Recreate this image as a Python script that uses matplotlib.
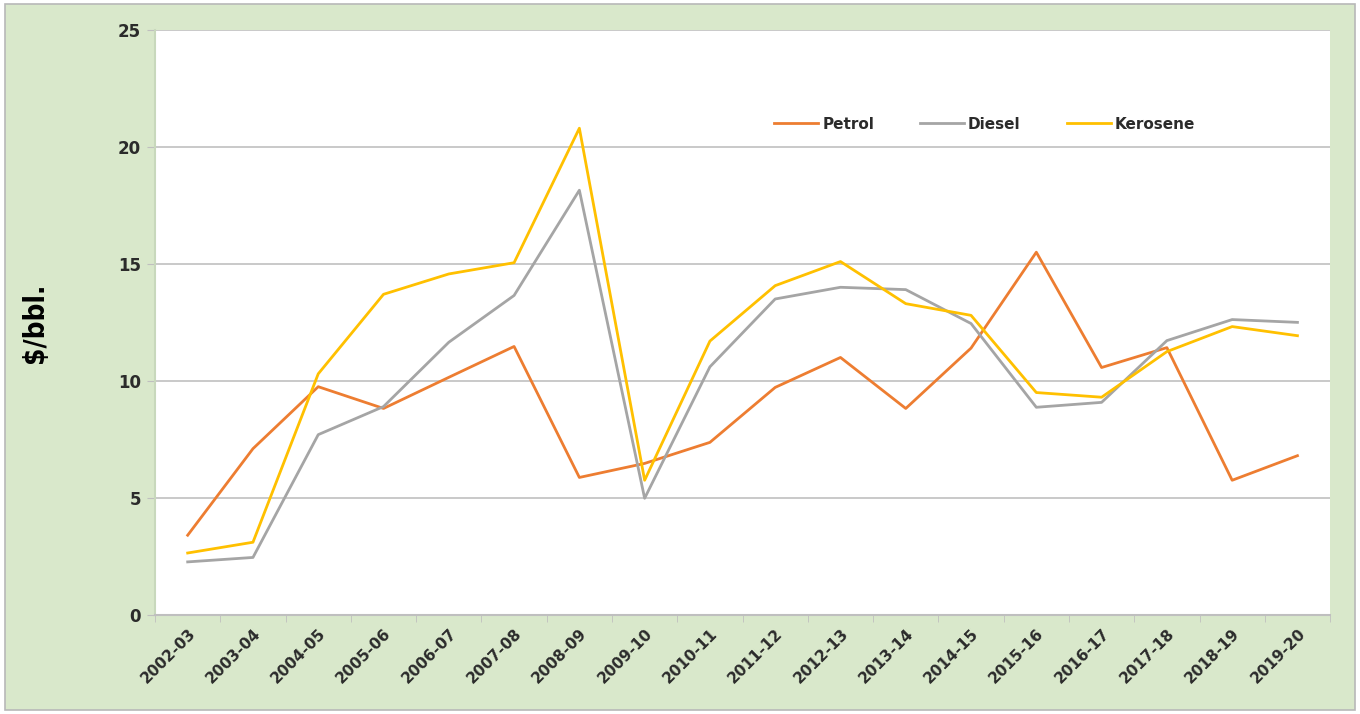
#importar librerias
import matplotlib
matplotlib.use("Agg")
import matplotlib.pyplot as plt
from matplotlib.patches import Rectangle
import numpy as np

#datos de la grafica
years = ["2002-03", "2003-04", "2004-05", "2005-06", "2006-07", "2007-08",
         "2008-09", "2009-10", "2010-11", "2011-12", "2012-13", "2013-14",
         "2014-15", "2015-16", "2016-17", "2017-18", "2018-19", "2019-20"]
petrol = [3.4, 7.1, 9.75, 8.82, 10.15, 11.47, 5.87, 6.47, 7.37, 9.72,
          11.0, 8.82, 11.4, 15.5, 10.57, 11.42, 5.75, 6.8]
diesel = [2.26, 2.45, 7.7, 8.9, 11.65, 13.65, 18.15, 4.98, 10.6, 13.5,
          14.0, 13.9, 12.45, 8.87, 9.08, 11.72, 12.62, 12.5]
kerosene = [2.64, 3.1, 10.3, 13.7, 14.57, 15.05, 20.8, 5.75, 11.7, 14.07,
            15.1, 13.3, 12.8, 9.5, 9.3, 11.25, 12.32, 11.93]
yticks = [0, 5, 10, 15, 20, 25]

verde = "#d9e8cb"
txt = "#2b2b2b"

fig = plt.figure(figsize=(13.6, 7.14), dpi=100)
fig.patch.set_facecolor("white")
#marco exterior verde (detras de los ejes)
fig.patches.append(Rectangle((0.004, 0.006), 0.992, 0.988, transform=fig.transFigure,
                             facecolor=verde, edgecolor="#b8b8b8", lw=1.2, zorder=-10))

ax = fig.add_axes([0.114, 0.139, 0.864, 0.819])
ax.set_facecolor("white")
x = np.arange(len(years))
ax.plot(x, petrol, color="#ED7D31", lw=2.0, label="Petrol")
ax.plot(x, diesel, color="#A5A5A5", lw=2.0, label="Diesel")
ax.plot(x, kerosene, color="#FFC000", lw=2.0, label="Kerosene")

ax.set_xlim(-0.5, len(years) - 0.5)
ax.set_ylim(0, 25)
ax.set_yticks(yticks)
ax.grid(axis="y", color="#c0c0c0", lw=1.2)
ax.set_axisbelow(True)
for s in ["top", "right"]:
    ax.spines[s].set_visible(False)
ax.spines["left"].set_color("#c8d8bc")
ax.spines["left"].set_linewidth(1.5)
ax.spines["bottom"].set_color("#bfbfbf")
ax.spines["bottom"].set_linewidth(1.5)

ax.set_xticks(x)
ax.set_xticklabels(years, rotation=45, ha="right", rotation_mode="anchor",
                   fontsize=11, fontweight="bold", color=txt)
ax.set_xticks(np.arange(-0.5, len(years)), minor=True)
ax.tick_params(axis="x", which="major", length=0, pad=8)
ax.tick_params(axis="x", which="minor", length=5, color="#bfbfbf")
ax.tick_params(axis="y", length=6, color="#bfbfbf", labelsize=12, labelcolor=txt, pad=4)
for t in ax.get_yticklabels():
    t.set_fontweight("bold")

ax.set_ylabel("$/bbl.", fontsize=20, fontweight="bold", fontstretch="condensed",
              family=["DejaVu Sans"], labelpad=50)

ax.legend(loc="center", bbox_to_anchor=(0.706, 0.839), ncol=3, frameon=False,
          handlelength=2.9, columnspacing=3.0, handletextpad=0.25,
          labelcolor=txt, prop={"weight": "bold", "size": 11})

plt.savefig("out.png", dpi=100)
